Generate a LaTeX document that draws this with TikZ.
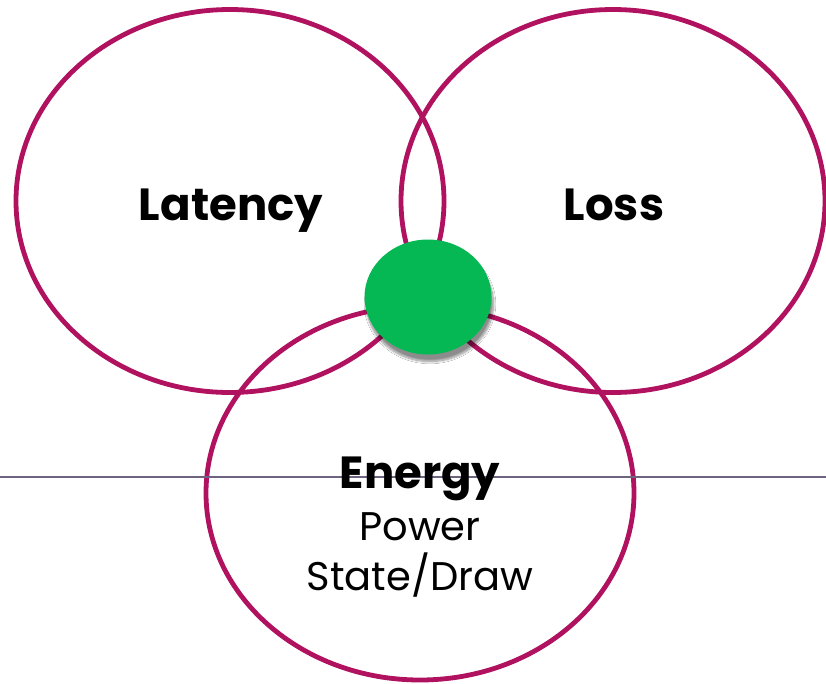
\documentclass[tikz,border=0pt]{standalone}
\usepackage{fontspec}
\setmainfont{Poppins}
\usetikzlibrary{shapes.geometric,shadows.blur}
\definecolor{ringcol}{HTML}{B0125F}
\definecolor{hubgreen}{HTML}{05B853}
\definecolor{rulecol}{HTML}{6E6480}
\tikzset{
  ring/.style={draw=ringcol, line width=4.8pt, ellipse, inner sep=0pt},
  title/.style={font=\bfseries\fontsize{45}{50}\selectfont, inner sep=0pt, anchor=base},
  sub/.style={font=\fontsize{40}{46}\selectfont, inner sep=0pt, anchor=base},
}
\begin{document}
\begin{tikzpicture}[x=1pt,y=-1pt]
  \useasboundingbox[fill=white] (0,0) rectangle (826,683);
  % three overlapping rings
  \node[ring, minimum width=428pt, minimum height=383pt] (lat) at (230,201) {};
  \node[ring, minimum width=424pt, minimum height=383pt] (loss) at (613,201) {};
  \node[ring, minimum width=428pt, minimum height=374pt] (energy) at (420,493) {};
  % horizontal rule
  \coordinate (ruleL) at (0,477);
  \coordinate (ruleR) at (826,477);
  \draw[rulecol, line width=1.2pt] (ruleL) -- (ruleR);
  % centre marker
  \node[ellipse, fill=hubgreen, minimum width=127pt, minimum height=115pt, inner sep=0pt,
        blur shadow={shadow xshift=2pt, shadow yshift=-7pt, shadow blur steps=12, shadow opacity=45}] (hub) at (428,297) {};
  % labels
  \node[title] (latT) at (231,220) {Latency};
  \node[title] (lossT) at (614,220) {Loss};
  \node[title] (enT) at (420,488) {Energy};
  \node[sub] (powT) at (420,540) {Power};
  \node[sub] (stT) at (420,590) {State/Draw};
\end{tikzpicture}
\end{document}
